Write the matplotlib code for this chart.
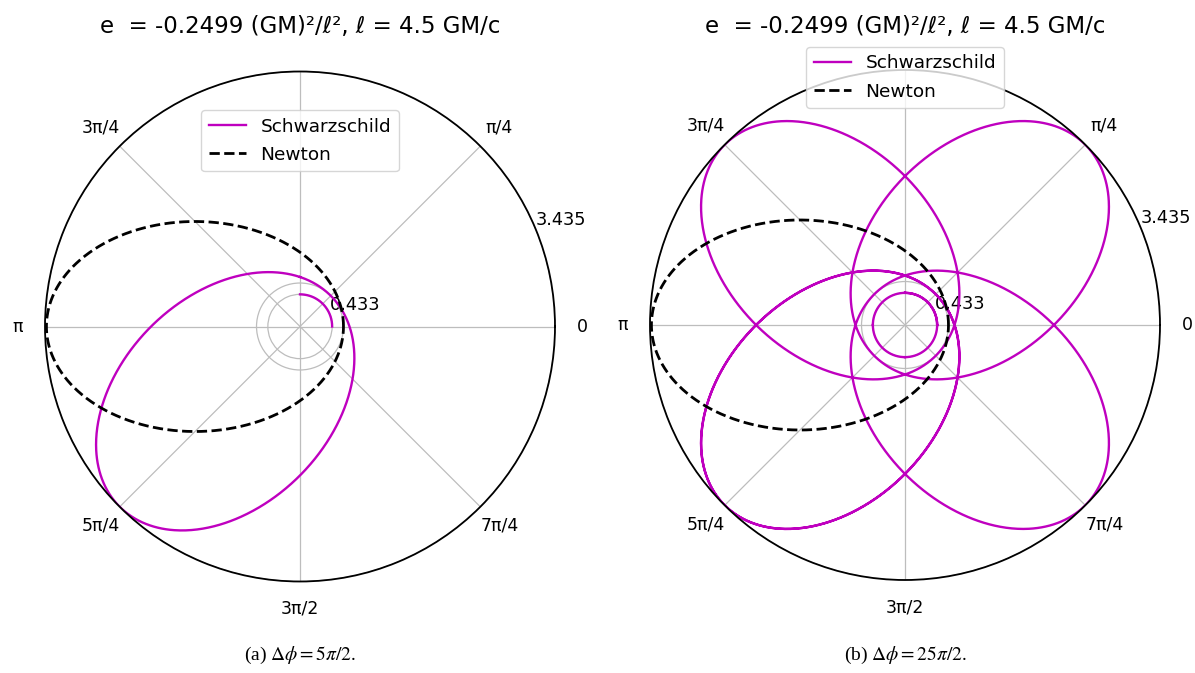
import numpy as np
import matplotlib.pyplot as plt

plt.rcParams['mathtext.fontset'] = 'stix'

# orbital parameters (G = M = c = 1, r in units of l^2/GM)
e = -0.2499          # energy per unit mass, (GM)^2/l^2
ell = 4.5            # angular momentum, GM/c
r_peri_s = 0.433     # Schwarzschild periapsis
r_apo_s = 3.435      # Schwarzschild apoapsis
period = 5*np.pi/2   # angle between successive periapses
spans = [5*np.pi/2, 25*np.pi/2]
captions = [r'(a) $\Delta\phi = 5\pi/2$.', r'(b) $\Delta\phi = 25\pi/2$.']

theta_labels = ['0', 'π/4', '', '3π/4', 'π', '5π/4', '3π/2', '7π/4']
title = 'e  = -0.2499 (GM)²/ℓ², ℓ = 4.5 GM/c'

# Newton: r = 1/(1 + eps cos phi)
eps_n = np.sqrt(1 + 2*e)
r_peri_n = 1/(1 + eps_n)

# outer loop of each Schwarzschild revolution
eps_l = (r_apo_s - r_peri_n)/(r_apo_s + r_peri_n)
p_l = 2*r_apo_s*r_peri_n/(r_apo_s + r_peri_n)


def schwarzschild(span):
    phis, rs = [], []
    for k in range(int(round(span/period))):
        ph0 = k*period
        arc = np.linspace(ph0, ph0 + np.pi/2, 80)
        loop = np.linspace(ph0 + np.pi/2, ph0 + period, 1200)
        phis += [arc, [np.nan], loop, [np.nan]]
        rs += [np.full_like(arc, r_peri_s), [np.nan],
               p_l/(1 + eps_l*np.cos(loop - ph0 - np.pi/4)), [np.nan]]
    return np.concatenate(phis), np.concatenate(rs)


fig = plt.figure(figsize=(11.95, 6.73), dpi=100)
positions = [[45/1195, 91.5/673, 510/1195, 510/673],
             [650/1195, 93/673, 510/1195, 510/673]]
legend_y = [0.942, 1.063]
centers = [300, 905]

phi_n = np.linspace(0, 2*np.pi, 1500)
r_n = 1/(1 + eps_n*np.cos(phi_n))

for i, span in enumerate(spans):
    ax = fig.add_axes(positions[i], projection='polar')
    phi_s, r_s = schwarzschild(span)
    ax.plot(phi_s, r_s, color='m', lw=1.7, label='Schwarzschild')
    ax.plot(phi_n, r_n, 'k--', lw=2, label='Newton')

    ax.set_rlim(0, r_apo_s)
    ax.set_rticks([r_peri_s, r_peri_n, r_apo_s])
    ax.set_yticklabels([f'{r_peri_s:.3f}', '', f'{r_apo_s:.3f}'], fontsize=12.8)
    ax.set_xticks(np.arange(8)*np.pi/4)
    ax.set_xticklabels(theta_labels, fontsize=12.5)
    ax.tick_params(axis='x', pad=9)
    ax.grid(color='#bdbdbd', lw=0.9)
    ax.spines['polar'].set_linewidth(1.3)

    ax.legend(loc='upper center', bbox_to_anchor=(0.5, legend_y[i]), fontsize=13.3,
              labelspacing=0.55)

    fig.text(centers[i]/1195, 1 - 27/673, title, ha='center', va='center', fontsize=16.5)
    fig.text(centers[i]/1195, 1 - 655/673, captions[i], ha='center', va='center',
             fontsize=14, family='Liberation Serif')

fig.savefig('out.png', dpi=100)
